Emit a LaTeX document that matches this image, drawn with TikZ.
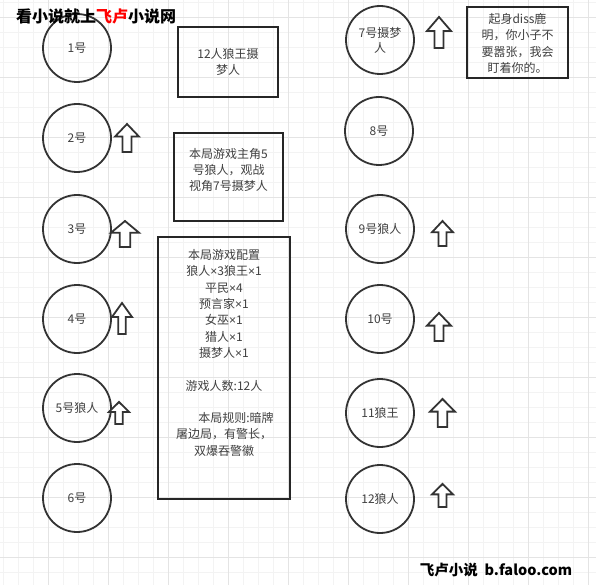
\documentclass[tikz,border=0pt]{standalone}
\usepackage{fontspec}
\setmainfont{Noto Sans CJK SC}
\newfontfamily\narrowfont{Liberation Sans}

\definecolor{linegray}{HTML}{333333}
\definecolor{boxgray}{HTML}{262626}
\definecolor{textgray}{HTML}{404040}
\definecolor{gridminor}{HTML}{F3F3F3}
\definecolor{gridmajor}{HTML}{E4E4E4}

% narrow multiplication sign
\newcommand{\tms}{{\narrowfont ×}}

% block arrow pointing up: name, tip x, tip y, width, height
\newcommand{\uparrowat}[5]{%
  \coordinate (#1) at (#2,#3);
  \draw[uparrow] (#1) -- ++({#4/2},{0.45*#5}) -- ++({-0.31*#4},0)
    -- ++(0,{0.55*#5}) -- ++({-0.38*#4},0) -- ++(0,{-0.55*#5})
    -- ++({-0.31*#4},0) -- cycle;}

\begin{document}
\begin{tikzpicture}[x=1pt,y=-1pt,
    seat/.style={circle, draw=linegray, line width=1.8pt, minimum size=68pt,
      inner sep=0pt, text=textgray, align=center,
      font=\fontsize{12}{15}\selectfont},
    notebox/.style={draw=boxgray, line width=2.2pt, inner sep=0pt},
    notetext/.style={text=textgray, align=center,
      font=\fontsize{12}{16.3}\selectfont},
    uparrow/.style={draw=linegray, line width=1.8pt, line join=miter, fill=white}]

    % Page and background grid
    \fill[white] (0,0) rectangle (596,585);
    \useasboundingbox (0,0) rectangle (596,585);
    \foreach \x in {3,18,...,596} \draw[gridminor, line width=0.7pt] (\x,0) -- (\x,585);
    \foreach \y in {2,17,...,585} \draw[gridminor, line width=0.7pt] (0,\y) -- (596,\y);
    \foreach \x in {48,108,...,596} \draw[gridmajor, line width=0.8pt] (\x,0) -- (\x,585);
    \foreach \y in {17,77,...,585} \draw[gridmajor, line width=0.8pt] (0,\y) -- (596,\y);

    % Seats on the left
    \node[seat] (p1) at (77,48) {1号};
    \node[seat] (p2) at (77,138) {2号};
    \node[seat] (p3) at (77,229) {3号};
    \node[seat] (p4) at (77,319) {4号};
    \node[seat] (p5) at (77,408) {5号狼人};
    \node[seat] (p6) at (77,498) {6号};

    % Seats on the right
    \node[seat] (p7) at (380,40) {7号摄梦\\人};
    \node[seat] (p8) at (379,131) {8号};
    \node[seat] (p9) at (380,229) {9号狼人};
    \node[seat] (p10) at (380,319) {10号};
    \node[seat] (p11) at (380,413) {11狼王};
    \node[seat] (p12) at (380,499) {12狼人};

    % Up arrows next to the seats
    \uparrowat{a2}{127}{124}{24}{28}
    \uparrowat{a3}{125}{221}{28}{26}
    \uparrowat{a4}{122}{303}{20}{31}
    \uparrowat{a5}{119}{402}{20}{22}
    \uparrowat{a7}{439}{17}{24}{31}
    \uparrowat{a9}{442.5}{221}{21}{25}
    \uparrowat{a10}{439}{313}{24}{28}
    \uparrowat{a11}{442.5}{399}{25}{28}
    \uparrowat{a12}{442.5}{484}{21}{23}

    % Note boxes
    \node[notebox, minimum width=100pt, minimum height=70pt] (mode) at (228,62) {};
    \node[notetext] (modetext) at (mode.center) {12人狼王摄\\梦人};

    \node[notebox, minimum width=109pt, minimum height=88pt] (hero) at (228.5,177) {};
    \node[notetext] (herotext) at (228.5,170) {本局游戏主角5\\号狼人，观战\\视角7号摄梦人};

    \node[notebox, minimum width=132pt, minimum height=262pt] (cfg) at (224,368) {};
    \node[notetext, anchor=north] (cfgtext) at (224,246)
      {本局游戏配置\\狼人\tms3狼王\tms1\\平民\tms4\\预言家\tms1\\女巫\tms1\\猎人\tms1\\摄梦人\tms1\\[16.3pt]
       游戏人数:12人\\[16.3pt]
       \hspace*{2em}本局规则:暗牌\\屠边局，有警长，\\双爆吞警徽};

    \node[notebox, minimum width=101pt, minimum height=71pt] (diss) at (517.5,42.5) {};
    \node[notetext] (disstext) at (517.5,43.5) {起身diss鹿\\明，你小子不\\要嚣张，我会\\盯着你的。};

    % Site banners
    \node[anchor=west, inner sep=0pt, font=\fontsize{16}{19}\selectfont\bfseries] (banner) at (16,16)
      {看小说就上\textcolor{red}{飞卢}小说网};
    \node[inner sep=0pt, font=\fontsize{14.5}{17}\selectfont\bfseries] (site) at (496,570)
      {飞卢小说\ \ b.faloo.com};

\end{tikzpicture}
\end{document}
